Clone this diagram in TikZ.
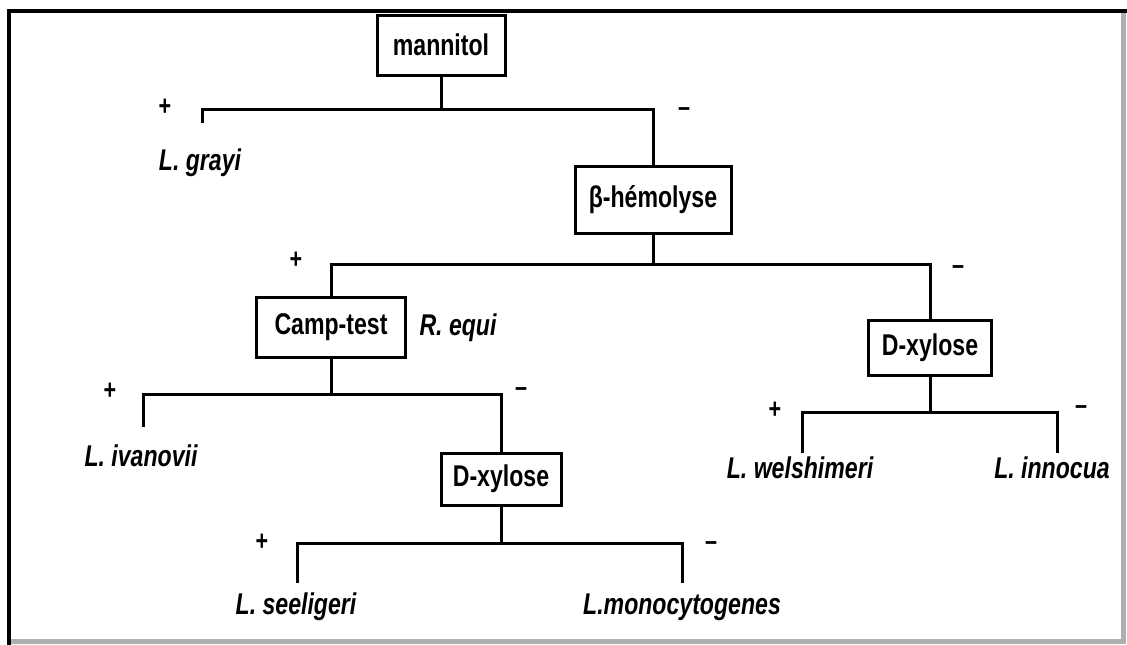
\documentclass[tikz,border=0pt]{standalone}
\usepackage{fontspec}
\usepackage{tikz}
\newfontfamily\treefont{Liberation Sans}[FakeStretch=0.77]
\definecolor{edgegray}{RGB}{175,175,175}

\begin{document}
\begin{tikzpicture}[x=1pt, y=-1pt,
  test/.style={draw, line width=3pt, inner sep=0pt, font=\treefont\bfseries\fontsize{30}{32}\selectfont},
  species/.style={inner sep=0pt, font=\treefont\bfseries\itshape\fontsize{30}{32}\selectfont},
  sign/.style={inner sep=0pt, font=\treefont\bfseries\fontsize{28}{30}\selectfont},
  branch/.style={line width=3pt}
]
  \useasboundingbox (0,0) rectangle (1127,645);

  % Frame
  \draw[edgegray, line width=5pt] (1123,11) -- (1123,641) -- (9,641);
  \draw[line width=3.5pt] (9,645) -- (9,11) -- (1127,11);

  % Tests
  \node[test, minimum width=128pt, minimum height=60pt] (mann) at (441,45) {mannitol};
  \node[test, minimum width=156pt, minimum height=67pt] (hemo) at (653,200) {β-hémolyse};
  \node[test, minimum width=149pt, minimum height=60pt] (camp) at (331,327) {Camp-test};
  \node[test, minimum width=120pt, minimum height=52pt] (xylL) at (501,479) {D-xylose};
  \node[test, minimum width=123pt, minimum height=55pt] (xylR) at (930,348) {D-xylose};

  % Species
  \node[species] (grayi) at (200,163) {L. grayi};
  \node[species] (equi) at (458,328) {R. equi};
  \node[species] (ivan) at (141,456) {L. ivanovii};
  \node[species] (wels) at (800,468) {L. welshimeri};
  \node[species] (inno) at (1052,468) {L. innocua};
  \node[species] (seel) at (296,607) {L. seeligeri};
  \node[species] (mono) at (682,607) {L.monocytogenes};

  % Signs
  \node[sign] (p1) at (165,107) {+};
  \node[sign] (m1) at (684,112) {–};
  \node[sign] (p2) at (296,260) {+};
  \node[sign] (m2) at (958,270) {–};
  \node[sign] (p3) at (110,391) {+};
  \node[sign] (m3) at (521,392) {–};
  \node[sign] (p5) at (775,410) {+};
  \node[sign] (m5) at (1081,410) {–};
  \node[sign] (p4) at (262,542) {+};
  \node[sign] (m4) at (711,546) {–};

  % Branch ends
  \coordinate (tgrayi) at (202,123);
  \coordinate (tivan) at (143,427);
  \coordinate (twels) at (802,453);
  \coordinate (tinno) at (1057,453);
  \coordinate (tseel) at (297,583);
  \coordinate (tmono) at (682,583);

  % Branches
  \coordinate (j1) at (mann.south |- 0,109);
  \draw[branch] (mann.south) -- (j1);
  \draw[branch] (tgrayi) |- (j1) -| (hemo.north);

  \coordinate (j2) at (hemo.south |- 0,264);
  \draw[branch] (hemo.south) -- (j2);
  \draw[branch] (camp.north) |- (j2) -| (xylR.north);

  \coordinate (j3) at (camp.south |- 0,394);
  \draw[branch] (camp.south) -- (j3);
  \draw[branch] (tivan) |- (j3) -| (xylL.north);

  \coordinate (j5) at (xylR.south |- 0,412);
  \draw[branch] (xylR.south) -- (j5);
  \draw[branch] (twels) |- (j5) -| (tinno);

  \coordinate (j4) at (xylL.south |- 0,543);
  \draw[branch] (xylL.south) -- (j4);
  \draw[branch] (tseel) |- (j4) -| (tmono);
\end{tikzpicture}
\end{document}
